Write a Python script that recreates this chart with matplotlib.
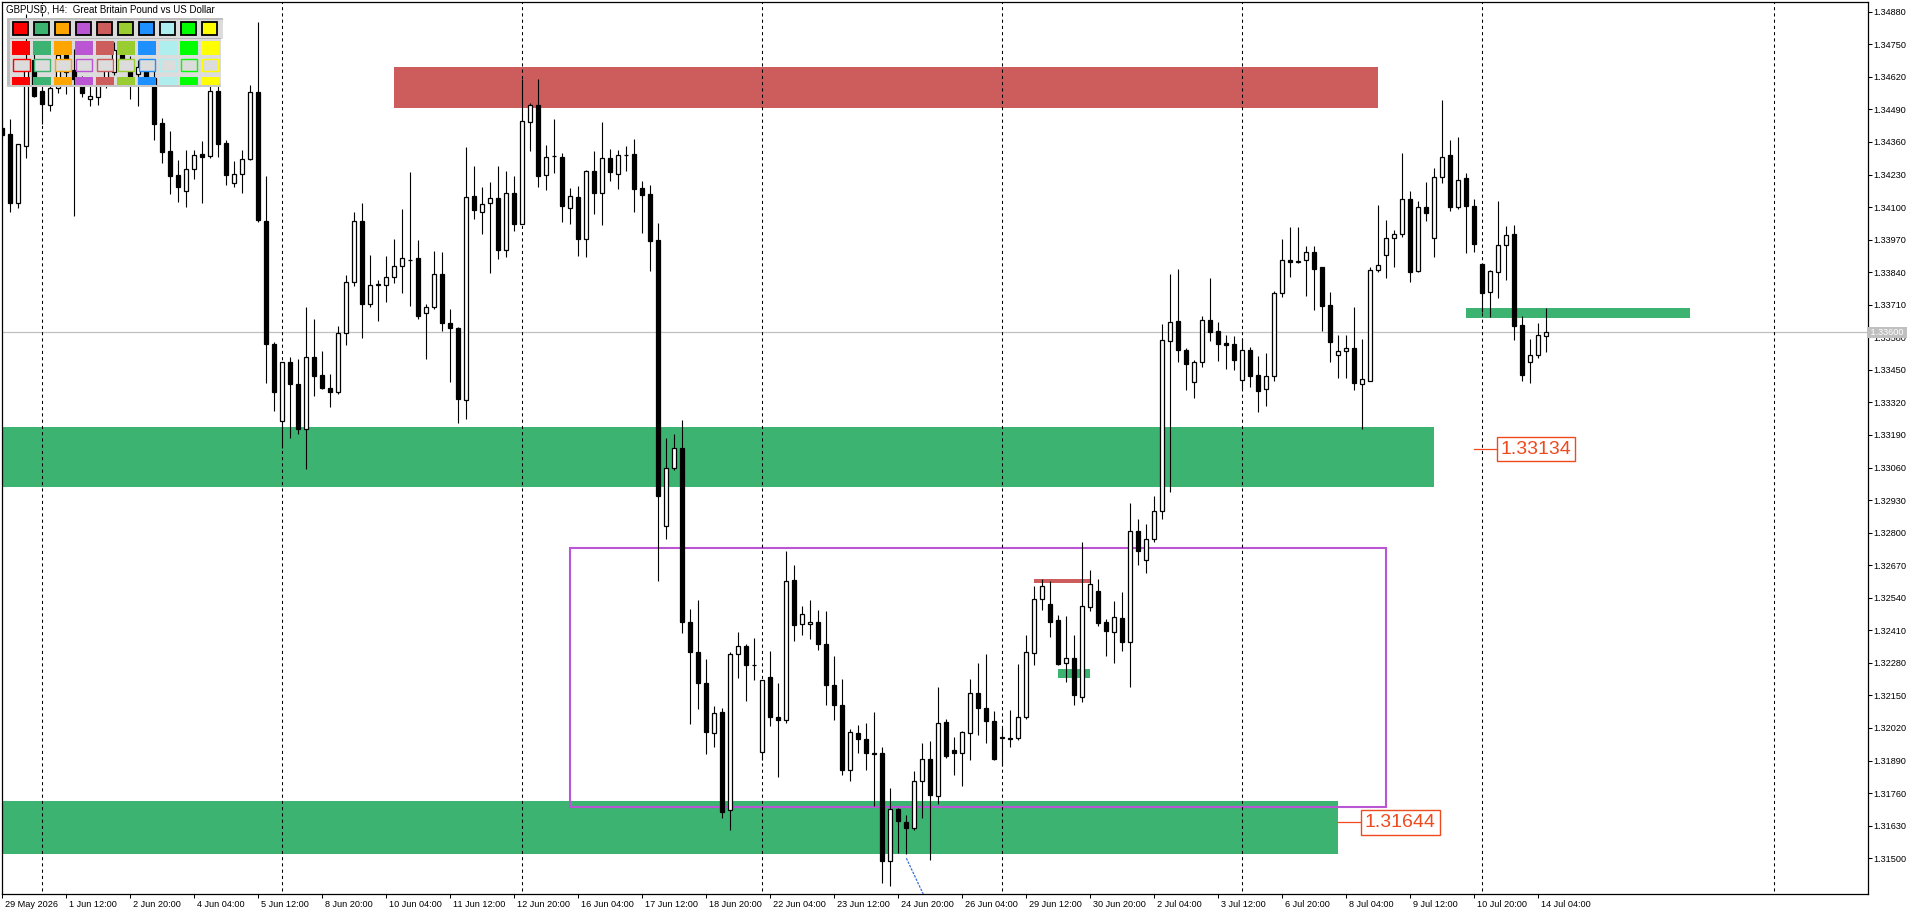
import matplotlib
matplotlib.use("Agg")
import matplotlib.pyplot as plt
import numpy as np
from matplotlib.patches import Rectangle
from matplotlib.transforms import Affine2D, ScaledTranslation, blended_transform_factory

plt.rcParams['font.family'] = ['Liberation Sans', 'DejaVu Sans']

# GBPUSD H4 candles, one row per bar: open, high, low, close
ohlc = [
    (1.34415, 1.34447, 1.34379, 1.34387), (1.34390, 1.34451, 1.34081, 1.34115),
    (1.34115, 1.34350, 1.34095, 1.34350), (1.34345, 1.34870, 1.34298, 1.34686),
    (1.34686, 1.34734, 1.34541, 1.34544), (1.34564, 1.34615, 1.34431, 1.34512),
    (1.34508, 1.34583, 1.34484, 1.34575), (1.34575, 1.34726, 1.34556, 1.34706),
    (1.34706, 1.34746, 1.34551, 1.34639), (1.34647, 1.34730, 1.34065, 1.34613),
    (1.34607, 1.34623, 1.34540, 1.34556), (1.34530, 1.34587, 1.34504, 1.34543),
    (1.34540, 1.34615, 1.34507, 1.34587), (1.34587, 1.34678, 1.34575, 1.34647),
    (1.34640, 1.34758, 1.34627, 1.34726), (1.34722, 1.34746, 1.34663, 1.34690),
    (1.34686, 1.34702, 1.34531, 1.34607), (1.34631, 1.34686, 1.34504, 1.34660),
    (1.34659, 1.34686, 1.34599, 1.34619), (1.34615, 1.34647, 1.34367, 1.34431),
    (1.34434, 1.34454, 1.34277, 1.34321), (1.34323, 1.34403, 1.34152, 1.34225),
    (1.34228, 1.34287, 1.34121, 1.34181), (1.34165, 1.34327, 1.34099, 1.34254),
    (1.34254, 1.34327, 1.34214, 1.34307), (1.34311, 1.34362, 1.34115, 1.34301),
    (1.34305, 1.34594, 1.34298, 1.34563), (1.34563, 1.34594, 1.34301, 1.34353),
    (1.34354, 1.34367, 1.34187, 1.34230), (1.34195, 1.34283, 1.34181, 1.34234),
    (1.34234, 1.34327, 1.34157, 1.34294), (1.34294, 1.34587, 1.34287, 1.34558),
    (1.34558, 1.34838, 1.34041, 1.34048), (1.34044, 1.34224, 1.33399, 1.33552),
    (1.33552, 1.33562, 1.33287, 1.33361), (1.33245, 1.33480, 1.33137, 1.33480),
    (1.33480, 1.33500, 1.33177, 1.33393), (1.33394, 1.33493, 1.33193, 1.33213),
    (1.33213, 1.33700, 1.33053, 1.33500), (1.33500, 1.33653, 1.33347, 1.33427),
    (1.33430, 1.33525, 1.33373, 1.33377), (1.33377, 1.33434, 1.33303, 1.33361),
    (1.33361, 1.33625, 1.33353, 1.33596), (1.33596, 1.33829, 1.33549, 1.33800),
    (1.33800, 1.34079, 1.33786, 1.34043), (1.34043, 1.34115, 1.33578, 1.33712),
    (1.33712, 1.33908, 1.33702, 1.33788), (1.33789, 1.33809, 1.33646, 1.33792),
    (1.33788, 1.33904, 1.33722, 1.33819), (1.33819, 1.33972, 1.33798, 1.33863),
    (1.33863, 1.34092, 1.33758, 1.33895), (1.33888, 1.34240, 1.33706, 1.33890),
    (1.33895, 1.33968, 1.33652, 1.33666), (1.33676, 1.33712, 1.33493, 1.33700),
    (1.33700, 1.33924, 1.33693, 1.33831), (1.33831, 1.33919, 1.33606, 1.33636),
    (1.33636, 1.33693, 1.33403, 1.33616), (1.33616, 1.33622, 1.33239, 1.33333),
    (1.33330, 1.34338, 1.33255, 1.34139), (1.34143, 1.34264, 1.34051, 1.34087),
    (1.34081, 1.34180, 1.33993, 1.34113), (1.34115, 1.34199, 1.33835, 1.34135),
    (1.34135, 1.34264, 1.33892, 1.33930), (1.33930, 1.34244, 1.33902, 1.34155),
    (1.34155, 1.34224, 1.34005, 1.34033), (1.34031, 1.34613, 1.34031, 1.34442),
    (1.34438, 1.34516, 1.34325, 1.34506), (1.34506, 1.34611, 1.34181, 1.34225),
    (1.34230, 1.34347, 1.34169, 1.34302), (1.34304, 1.34453, 1.34238, 1.34306),
    (1.34299, 1.34317, 1.34040, 1.34106), (1.34097, 1.34176, 1.34033, 1.34144),
    (1.34140, 1.34185, 1.33906, 1.33974), (1.33974, 1.34248, 1.33900, 1.34244),
    (1.34244, 1.34323, 1.34072, 1.34157), (1.34157, 1.34440, 1.34029, 1.34295),
    (1.34295, 1.34331, 1.34204, 1.34242), (1.34232, 1.34327, 1.34172, 1.34308),
    (1.34308, 1.34344, 1.34246, 1.34310), (1.34312, 1.34372, 1.34080, 1.34174),
    (1.34176, 1.34204, 1.33997, 1.34148), (1.34152, 1.34189, 1.33846, 1.33965),
    (1.33969, 1.34038, 1.32608, 1.32945), (1.32828, 1.33177, 1.32776, 1.33060),
    (1.33059, 1.33192, 1.33051, 1.33138), (1.33138, 1.33249, 1.32400, 1.32444),
    (1.32444, 1.32495, 1.32037, 1.32325), (1.32325, 1.32531, 1.32097, 1.32201),
    (1.32201, 1.32295, 1.31916, 1.32005), (1.31999, 1.32107, 1.31943, 1.32078),
    (1.32083, 1.32100, 1.31662, 1.31683), (1.31693, 1.32323, 1.31611, 1.32315),
    (1.32315, 1.32403, 1.32218, 1.32347), (1.32347, 1.32356, 1.32126, 1.32270),
    (1.32273, 1.32379, 1.32210, 1.32270), (1.31924, 1.32211, 1.31891, 1.32211),
    (1.32223, 1.32328, 1.32026, 1.32062), (1.32064, 1.32200, 1.31823, 1.32050),
    (1.32052, 1.32727, 1.32038, 1.32606), (1.32610, 1.32672, 1.32366, 1.32433),
    (1.32435, 1.32508, 1.32392, 1.32475), (1.32435, 1.32532, 1.32377, 1.32444),
    (1.32443, 1.32492, 1.32330, 1.32354), (1.32355, 1.32488, 1.32110, 1.32190),
    (1.32192, 1.32308, 1.32053, 1.32110), (1.32113, 1.32217, 1.31834, 1.31851),
    (1.31852, 1.32017, 1.31807, 1.32004), (1.32000, 1.32033, 1.31921, 1.31974),
    (1.31976, 1.32041, 1.31854, 1.31919), (1.31920, 1.32085, 1.31710, 1.31918),
    (1.31920, 1.31945, 1.31402, 1.31488), (1.31488, 1.31782, 1.31388, 1.31697),
    (1.31697, 1.31701, 1.31520, 1.31647), (1.31645, 1.31673, 1.31516, 1.31619),
    (1.31621, 1.31850, 1.31611, 1.31808), (1.31807, 1.31961, 1.31659, 1.31896),
    (1.31896, 1.31969, 1.31494, 1.31751), (1.31747, 1.32185, 1.31718, 1.32040),
    (1.32044, 1.32057, 1.31900, 1.31907), (1.31933, 1.31985, 1.31834, 1.31920),
    (1.31919, 1.32009, 1.31787, 1.32005), (1.31998, 1.32217, 1.31893, 1.32160),
    (1.32160, 1.32281, 1.31990, 1.32098), (1.32101, 1.32316, 1.31959, 1.32046),
    (1.32049, 1.32089, 1.31893, 1.31897), (1.31980, 1.32020, 1.31867, 1.31982),
    (1.31981, 1.32093, 1.31943, 1.31976), (1.31978, 1.32277, 1.31971, 1.32064),
    (1.32062, 1.32392, 1.32056, 1.32323), (1.32321, 1.32585, 1.32273, 1.32535),
    (1.32537, 1.32616, 1.32492, 1.32587), (1.32516, 1.32608, 1.32384, 1.32445),
    (1.32452, 1.32472, 1.32273, 1.32277), (1.32279, 1.32468, 1.32205, 1.32299),
    (1.32300, 1.32392, 1.32113, 1.32150), (1.32144, 1.32763, 1.32122, 1.32507),
    (1.32503, 1.32652, 1.32489, 1.32596), (1.32568, 1.32616, 1.32429, 1.32441),
    (1.32443, 1.32456, 1.32306, 1.32409), (1.32405, 1.32528, 1.32279, 1.32463),
    (1.32459, 1.32563, 1.32326, 1.32363), (1.32363, 1.32918, 1.32182, 1.32806),
    (1.32806, 1.32855, 1.32669, 1.32725), (1.32690, 1.32835, 1.32638, 1.32774),
    (1.32774, 1.32947, 1.32762, 1.32886), (1.32886, 1.33633, 1.32854, 1.33568),
    (1.33564, 1.33833, 1.32964, 1.33640), (1.33645, 1.33853, 1.33483, 1.33528),
    (1.33529, 1.33536, 1.33371, 1.33475), (1.33400, 1.33489, 1.33339, 1.33480),
    (1.33480, 1.33665, 1.33463, 1.33648), (1.33649, 1.33817, 1.33566, 1.33602),
    (1.33605, 1.33641, 1.33487, 1.33555), (1.33557, 1.33589, 1.33455, 1.33548),
    (1.33553, 1.33586, 1.33450, 1.33491), (1.33408, 1.33577, 1.33375, 1.33528),
    (1.33529, 1.33543, 1.33383, 1.33427), (1.33430, 1.33507, 1.33283, 1.33367),
    (1.33373, 1.33517, 1.33307, 1.33424), (1.33424, 1.33766, 1.33407, 1.33757),
    (1.33756, 1.33972, 1.33742, 1.33887), (1.33887, 1.34021, 1.33822, 1.33879),
    (1.33882, 1.34021, 1.33878, 1.33884), (1.33887, 1.33944, 1.33746, 1.33919),
    (1.33919, 1.33946, 1.33689, 1.33854), (1.33861, 1.33861, 1.33606, 1.33706),
    (1.33709, 1.33761, 1.33483, 1.33562), (1.33508, 1.33589, 1.33419, 1.33524),
    (1.33524, 1.33589, 1.33419, 1.33536), (1.33537, 1.33701, 1.33371, 1.33397),
    (1.33393, 1.33573, 1.33215, 1.33412), (1.33407, 1.33862, 1.33404, 1.33847),
    (1.33847, 1.34108, 1.33842, 1.33869), (1.33907, 1.34048, 1.33818, 1.33975),
    (1.33975, 1.34008, 1.33861, 1.33991), (1.33991, 1.34315, 1.33981, 1.34132),
    (1.34132, 1.34164, 1.33802, 1.33842), (1.33846, 1.34124, 1.33842, 1.34099),
    (1.34100, 1.34200, 1.34044, 1.34077), (1.33975, 1.34256, 1.33902, 1.34222),
    (1.34222, 1.34527, 1.34197, 1.34302), (1.34307, 1.34367, 1.34085, 1.34101),
    (1.34101, 1.34379, 1.34091, 1.34210), (1.34216, 1.34236, 1.33918, 1.34105),
    (1.34104, 1.34132, 1.33920, 1.33954), (1.33873, 1.33873, 1.33682, 1.33758),
    (1.33760, 1.33847, 1.33661, 1.33845), (1.33842, 1.34124, 1.33737, 1.33948),
    (1.33947, 1.34024, 1.33809, 1.33987), (1.33992, 1.34028, 1.33569, 1.33626),
    (1.33629, 1.33665, 1.33406, 1.33430), (1.33483, 1.33574, 1.33399, 1.33508),
    (1.33508, 1.33636, 1.33499, 1.33588), (1.33586, 1.33696, 1.33520, 1.33600),
]

# time axis labels, one every 8 bars
date_labels = ["29 May 2026", "1 Jun 12:00", "2 Jun 20:00", "4 Jun 04:00", "5 Jun 12:00",
               "8 Jun 20:00", "10 Jun 04:00", "11 Jun 12:00", "12 Jun 20:00", "16 Jun 04:00",
               "17 Jun 12:00", "18 Jun 20:00", "22 Jun 04:00", "23 Jun 12:00", "24 Jun 20:00",
               "26 Jun 04:00", "29 Jun 12:00", "30 Jun 20:00", "2 Jul 04:00", "3 Jul 12:00",
               "6 Jul 20:00", "8 Jul 04:00", "9 Jul 12:00", "10 Jul 20:00", "14 Jul 04:00"]
label_bars = list(range(0, 8 * len(date_labels), 8))
week_bars = [5, 35, 65, 95, 125, 155, 185, 221.4]

# drawn zones: from bar, to bar, low price, high price
zone_from = [49, -1, -1, 183, 129, 132]
zone_to = [172, 179, 167, 211, 136, 136]
zone_lo = [1.34496, 1.32983, 1.31516, 1.33657, 1.32597, 1.32218]
zone_hi = [1.34660, 1.33222, 1.31730, 1.33697, 1.32616, 1.32257]
zone_col = ['#CD5C5C', '#3CB371', '#3CB371', '#3CB371', '#CD5C5C', '#3CB371']

range_box = (71, 173, 1.31706, 1.32737)
trend_x = [113, 115.5]
trend_y = [1.31500, 1.31330]
levels = [1.33134, 1.31644]
level_from = [184, 167]
level_box = [186.8, 169.8]
bid = 1.33600

panel_cols = ['#FF0000', '#3CB371', '#FFA500', '#BA55D3', '#CD5C5C',
              '#9ACD32', '#1E90FF', '#AFEEEE', '#00FF00', '#FFFF00']

W, H = 1920, 915
fig = plt.figure(figsize=(W / 100, H / 100), dpi=100)
ax = fig.add_axes([2 / W, 1 - 894 / H, 1866 / W, 892 / H])

arr = np.array(ohlc)
o, h, l, c = arr[:, 0], arr[:, 1], arr[:, 2], arr[:, 3]
x = np.arange(len(arr))
up = c >= o

for f, t, lo, hi, col in zip(zone_from, zone_to, zone_lo, zone_hi, zone_col):
    ax.add_patch(Rectangle((f, lo), t - f, hi - lo, facecolor=col, edgecolor='none', zorder=1))
ax.add_patch(Rectangle((range_box[0], range_box[2]), range_box[1] - range_box[0],
                       range_box[3] - range_box[2], facecolor='none',
                       edgecolor='#BA55D3', lw=1.5, zorder=1.2))

ax.axhline(bid, color='#C0C0C0', lw=0.9, zorder=1.5)
ax.vlines(week_bars, 1.30, 1.36, colors='black', lw=0.75, linestyles=(0, (3, 3)), zorder=2)

# panel background sits under the candles
tr = Affine2D().scale(1, -1).translate(0, H)
ax.add_patch(Rectangle((7.3, 18), 213.5, 68.7, facecolor='#DCDCDC', edgecolor='none',
                       transform=tr, zorder=2.5))

ax.vlines(x, l, h, color='black', lw=0.8, zorder=3)
body = np.abs(c - o)
base = np.minimum(o, c)
ax.bar(x[up], body[up], bottom=base[up], width=0.5, facecolor='white',
       edgecolor='black', lw=0.9, zorder=4)
ax.bar(x[~up], body[~up], bottom=base[~up], width=0.5, facecolor='black',
       edgecolor='black', lw=0.9, zorder=4)

ax.plot(trend_x, trend_y, color='#3B6FDB', lw=0.9, ls=(0, (2, 1)), zorder=5)

for lv, f, bx in zip(levels, level_from, level_box):
    ax.plot([f, bx], [lv, lv], color='#EE4A1E', lw=0.9, zorder=5)
    ax.text(bx + 0.5, lv, f"{lv:.5f}", color='#EE4A1E', fontsize=14, ha='left', va='center',
            zorder=6, bbox=dict(boxstyle='square,pad=0.2', facecolor='white',
                                edgecolor='#EE4A1E', lw=1.0))

# panel top strip and colour cells
ax.add_patch(Rectangle((7.3, 18), 215.4, 20.5, facecolor='#DCDCDC', edgecolor='none',
                       transform=tr, zorder=5))
ax.add_patch(Rectangle((7.3, 18), 215.4, 2, facecolor='#BDBDBD', edgecolor='none',
                       transform=tr, zorder=5.5))
ax.add_patch(Rectangle((7.3, 18), 2.7, 68.7, facecolor='#BDBDBD', edgecolor='none',
                       transform=tr, zorder=5.5))
ax.add_patch(Rectangle((10, 38), 210.7, 1.3, facecolor='#B4B4B4', edgecolor='none',
                       transform=tr, zorder=5.5))
ax.add_patch(Rectangle((7.3, 84.7), 213.4, 2, facecolor='#C8C8C8', edgecolor='none',
                       transform=tr, zorder=5.5))
for i, col in enumerate(panel_cols):
    x0 = 12.3 + 20.97 * i
    ax.add_patch(Rectangle((x0 + 0.7, 22), 15, 13.2, facecolor=col, edgecolor='black',
                           lw=1.3, transform=tr, zorder=6))
    ax.add_patch(Rectangle((x0, 40.7), 17.7, 14, facecolor=col, edgecolor='none',
                           transform=tr, zorder=6))
    ax.add_patch(Rectangle((x0 + 0.5, 58.5), 16.7, 12.6, facecolor='#DCDCDC', edgecolor=col,
                           lw=1.0, transform=tr, zorder=6))
    ax.add_patch(Rectangle((x0, 76.7), 17.7, 8, facecolor=col, edgecolor='none',
                           transform=tr, zorder=6))

fig.text(6.5 / W, 1 - 9.5 / H, "GBPUSD, H4:  Great Britain Pound vs US Dollar",
         fontsize=7, va='center', ha='left', color='black')

ax.set_xlim(-0.04, 233.2)
ax.set_ylim(1.31357, 1.34919)

yt = [1.31500 + 0.0013 * n for n in range(27)]
ax.yaxis.tick_right()
ax.set_yticks(yt)
ax.set_yticklabels([f"{v:.5f}" for v in yt])
ax.tick_params(axis='y', direction='out', length=3, width=0.75, pad=1, labelsize=6.6)
ax.set_xticks(label_bars)
ax.set_xticklabels(date_labels)
ax.tick_params(axis='x', direction='out', length=3, width=0.75, pad=1.5, labelsize=6.6)
shift = ScaledTranslation(2 / 72, 0, fig.dpi_scale_trans)
for lbl in ax.get_xticklabels():
    lbl.set_ha('left')
    lbl.set_transform(lbl.get_transform() + shift)

for sp in ax.spines.values():
    sp.set_linewidth(0.9)
    sp.set_color('black')

ax.text(1.0, bid, f" {bid:.5f} ", transform=blended_transform_factory(ax.transAxes, ax.transData),
        ha='left', va='center', fontsize=6.6, color='white', zorder=10, clip_on=False,
        bbox=dict(boxstyle='square,pad=0.1', facecolor='#C0C0C0', edgecolor='none'))

fig.savefig("out.png", dpi=100)
